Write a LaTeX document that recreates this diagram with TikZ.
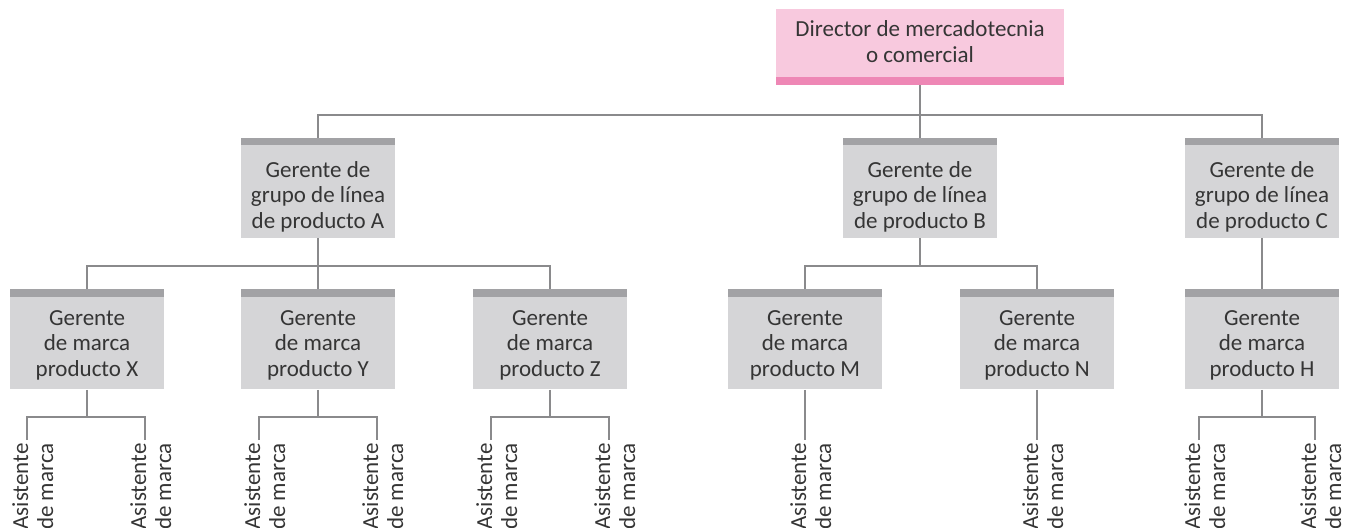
\documentclass[tikz,border=0pt]{standalone}
\usepackage{fontspec}
\setmainfont{Carlito}
\usetikzlibrary{calc}
\definecolor{dirfill}{HTML}{F8C9DE}
\definecolor{dirband}{HTML}{EE87B5}
\definecolor{boxfill}{HTML}{D5D5D7}
\definecolor{boxbar}{HTML}{A2A2A5}
\definecolor{linegray}{HTML}{8A8A8C}
\definecolor{txt}{HTML}{353535}
% struts that place the text block inside the boxes
\newcommand{\grouptop}{\rule{0pt}{16.8pt}}
\newcommand{\brandtop}{\rule{0pt}{13.3pt}}
\newcommand{\dirbottom}{\rule[-5.25pt]{0pt}{5.25pt}}
\tikzset{
  conn/.style={draw=linegray, line width=1pt},
  basebox/.style={rectangle, inner sep=0pt, align=center, text=txt,
    font=\fontsize{11.5}{12.75}\selectfont},
  dirbox/.style={basebox, fill=dirfill, minimum width=144pt, minimum height=38pt,
    font=\fontsize{11.5}{13}\selectfont,
    path picture={\fill[dirband] (path picture bounding box.south west)
      rectangle ([yshift=4pt]path picture bounding box.south east);}},
  mgrbox/.style={basebox, fill=boxfill, minimum width=77pt, minimum height=50pt,
    path picture={\fill[boxbar] (path picture bounding box.north west)
      rectangle ([yshift=-3.75pt]path picture bounding box.north east);}},
  asist/.style={rectangle, inner sep=0pt, align=right, rotate=90, anchor=north east,
    text=txt, font=\fontsize{11.5}{12.5}\selectfont}
}
\begin{document}
\begin{tikzpicture}[x=0.5pt, y=-0.5pt]
\useasboundingbox (0,0) rectangle (1347,528);
\clip (0,0) rectangle (1347,528);

% top level
\node[dirbox] (dir) at (920,47) {Director de mercadotecnia\\o comercial\dirbottom};

% product line group managers
\node[mgrbox] (gA) at (318,188) {\grouptop Gerente de\\grupo de línea\\de producto A};
\node[mgrbox] (gB) at (920,188) {\grouptop Gerente de\\grupo de línea\\de producto B};
\node[mgrbox] (gC) at (1262,188) {\grouptop Gerente de\\grupo de línea\\de producto C};

% brand managers
\node[mgrbox] (bX) at (87,339.5)   {\brandtop Gerente\\de marca\\producto X};
\node[mgrbox] (bY) at (318,339.5)  {\brandtop Gerente\\de marca\\producto Y};
\node[mgrbox] (bZ) at (550,339.5)  {\brandtop Gerente\\de marca\\producto Z};
\node[mgrbox] (bM) at (805,339.5)  {\brandtop Gerente\\de marca\\producto M};
\node[mgrbox] (bN) at (1037,339.5) {\brandtop Gerente\\de marca\\producto N};
\node[mgrbox] (bH) at (1262,339.5) {\brandtop Gerente\\de marca\\producto H};

% director to group managers
\draw[conn] (dir.south) -- (gB.north);
\draw[conn] (gA.north) -- ++(0,-23) coordinate (busTop) -| (gC.north);

% group managers to brand managers
\draw[conn] (gA.south) -- ++(0,28) coordinate (busA);
\draw[conn] (bX.north) |- (busA) -| (bZ.north);
\draw[conn] (busA) -- (bY.north);
\draw[conn] (gB.south) -- ++(0,28) coordinate (busB);
\draw[conn] (bM.north) |- (busB) -| (bN.north);
\draw[conn] (gC.south) -- (bH.north);

% line ends above the assistant labels
\coordinate (tX1) at (27,440);   \coordinate (tX2) at (145,440);
\coordinate (tY1) at (259,440);  \coordinate (tY2) at (377,440);
\coordinate (tZ1) at (491,440);  \coordinate (tZ2) at (609,440);
\coordinate (tM)  at (805,440);
\coordinate (tN)  at (1037,440);
\coordinate (tH1) at (1199,440); \coordinate (tH2) at (1315,440);

% assistant labels
\foreach \t in {X1,X2,Y1,Y2,Z1,Z2,M,N,H1,H2}{
  \node[asist] (a\t) at ($(t\t)+(-15,3)$) {Asistente\\de marca};
}

% brand managers to assistants
\draw[conn] (bX.south) -- ++(0,27) coordinate (busX);
\draw[conn] (tX1) |- (busX) -| (tX2);
\draw[conn] (bY.south) -- ++(0,27) coordinate (busY);
\draw[conn] (tY1) |- (busY) -| (tY2);
\draw[conn] (bZ.south) -- ++(0,27) coordinate (busZ);
\draw[conn] (tZ1) |- (busZ) -| (tZ2);
\draw[conn] (bM.south) -- (tM);
\draw[conn] (bN.south) -- (tN);
\draw[conn] (bH.south) -- ++(0,27) coordinate (busH);
\draw[conn] (tH1) |- (busH) -| (tH2);
\end{tikzpicture}
\end{document}
